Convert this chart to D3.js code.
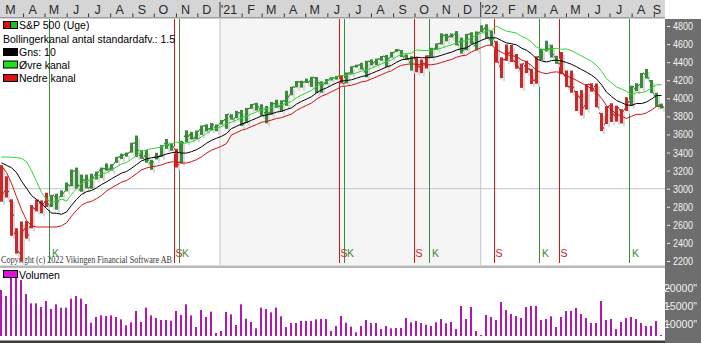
<!DOCTYPE html>
<html>
<head>
<meta charset="utf-8">
<script src="https://cdn.jsdelivr.net/npm/d3@7"></script>
<style>
  body { margin: 0; background: #fff; }
  svg { display: block; }
</style>
</head>
<body>
<div id="chartContainer"></div>
<script>
// weekly bars, first bar = week ending 28 Feb 2020
var firstWeek = "2020-02-28";

var weekOpen = [3258,2974,2864,2509,2291,2555,2578,2782,2846,2854,2815,2915,2913,2970,3038,3200,2994,3094,3019,3155,
  3205,3224,3220,3288,3356,3381,3406,3507,3370,3364,3286,3351,3367,3500,3493,3441,3296,3583,3600,3567,
  3654,3698,3666,3684,3723,3765,3803,3782,3844,3731,3893,3940,3886,3843,3844,3943,3916,3971,4034,4125,
  4183,4185,4192,4228,4170,4169,4217,4229,4249,4173,4285,4356,4372,4296,4410,4407,4438,4462,4450,4514,
  4535,4470,4403,4450,4349,4385,4471,4554,4610,4701,4689,4712,4628,4548,4712,4587,4733,4778,4655,4632,
  4356,4431,4505,4412,4332,4363,4322,4202,4462,4541,4547,4462,4385,4255,4130,4081,4013,3919,4153,4134,
  3838,3715,3920,3815,3880,3883,3965,4112,4155,4269,4195,4034,3930];
var weekHigh = [3260,3137,2883,2563,2637,2641,2819,2879,2870,2955,2932,2945,2981,3069,3212,3233,3156,3155,3166,3190,
  3234,3279,3272,3353,3388,3400,3509,3588,3426,3429,3320,3397,3482,3550,3502,3441,3529,3646,3629,3644,
  3699,3712,3727,3711,3760,3827,3824,3861,3871,3894,3937,3950,3934,3915,3960,3984,3978,4083,4129,4191,
  4194,4218,4238,4236,4188,4213,4234,4249,4257,4286,4355,4372,4393,4415,4430,4440,4468,4480,4513,4546,
  4535,4485,4465,4457,4429,4475,4559,4608,4719,4714,4717,4744,4672,4713,4731,4740,4808,4819,4748,4632,
  4453,4595,4590,4490,4385,4416,4327,4465,4546,4637,4593,4471,4512,4308,4307,4081,4090,4158,4166,4164,
  3838,3913,3945,3918,3880,4012,4140,4167,4280,4325,4203,4062,3942];
var weekLow = [2856,2902,2479,2281,2192,2447,2562,2749,2727,2798,2797,2767,2908,2970,3026,2999,2966,3004,3000,3101,
  3116,3199,3200,3285,3327,3355,3398,3350,3330,3287,3209,3323,3354,3441,3420,3234,3280,3512,3543,3547,
  3594,3633,3647,3636,3710,3663,3764,3780,3694,3725,3884,3865,3806,3723,3819,3894,3853,3917,4034,4121,
  4118,4170,4126,4057,4061,4155,4197,4207,4164,4164,4271,4340,4318,4233,4364,4367,4415,4347,4450,4513,
  4457,4424,4306,4288,4279,4329,4447,4537,4595,4630,4672,4585,4495,4532,4600,4531,4733,4662,4582,4395,
  4223,4414,4401,4327,4115,4279,4158,4161,4424,4517,4450,4381,4267,4124,4062,3859,3810,3875,4073,3900,
  3637,3715,3738,3742,3722,3860,3913,4079,4112,4218,4057,3907,3886];
var weekClose = [2954,2972,2711,2305,2541,2489,2790,2875,2837,2831,2930,2864,2955,3044,3194,3041,3098,3009,3130,3185,
  3225,3216,3271,3351,3373,3397,3508,3427,3341,3319,3298,3348,3477,3484,3465,3270,3509,3585,3558,3638,
  3699,3663,3709,3703,3756,3825,3768,3841,3714,3887,3935,3907,3811,3842,3943,3913,3975,4020,4129,4185,
  4180,4181,4233,4174,4156,4204,4230,4247,4166,4281,4352,4370,4327,4412,4395,4437,4468,4442,4509,4535,
  4459,4433,4455,4357,4391,4471,4545,4605,4698,4683,4698,4595,4538,4712,4621,4726,4766,4677,4663,4398,
  4432,4501,4419,4349,4385,4329,4204,4463,4543,4546,4488,4393,4272,4132,4123,4024,3901,4158,4109,3901,
  3675,3912,3825,3899,3863,3962,4130,4145,4280,4228,4058,3924,3908];

// Gns: 10 and the two channel lines
var avg10 = [3286,3259,3232,3180,3084,3005,2924,2881,2836,2781,2731,2728,2717,2742,2816,2881,2936,2967,2980,3010,
  3045,3075,3110,3141,3172,3190,3226,3267,3308,3329,3343,3350,3363,3384,3397,3406,3394,3394,3410,3431,
  3463,3503,3535,3558,3580,3609,3665,3690,3716,3732,3757,3780,3805,3815,3829,3847,3856,3877,3895,3936,
  3966,3991,4018,4060,4093,4115,4144,4169,4192,4196,4205,4222,4241,4251,4275,4298,4322,4346,4365,4399,
  4425,4435,4442,4455,4449,4449,4452,4460,4476,4495,4510,4534,4550,4558,4594,4617,4642,4664,4671,4668,
  4639,4613,4603,4592,4555,4532,4492,4436,4414,4402,4417,4423,4412,4397,4376,4349,4319,4289,4258,4215,
  4150,4069,4021,3976,3953,3927,3921,3943,3942,3959,3992,4030,4031];
var upperBand = [3350,3350,3348,3345,3335,3300,3200,3080,2960,2880,2850,2860,2885,2862,2936,3001,3056,3087,3100,3130,
  3165,3175,3210,3241,3272,3290,3326,3367,3408,3429,3443,3450,3463,3484,3497,3516,3504,3504,3520,3541,
  3573,3613,3645,3668,3690,3719,3735,3760,3786,3802,3827,3850,3875,3885,3899,3917,3926,3947,3965,4006,
  4036,4061,4088,4130,4163,4185,4214,4239,4252,4256,4265,4282,4301,4311,4335,4358,4382,4406,4425,4459,
  4485,4495,4502,4535,4529,4529,4532,4540,4556,4575,4590,4614,4630,4638,4674,4697,4722,4744,4751,4798,
  4769,4743,4733,4722,4685,4662,4622,4566,4544,4532,4547,4553,4542,4547,4526,4499,4469,4439,4408,4365,
  4300,4219,4171,4126,4103,4077,4041,4063,4062,4079,4112,4150,4151];
var lowerBand = [3255,3180,3060,2910,2770,2650,2590,2576,2576,2576,2576,2576,2590,2622,2696,2761,2816,2847,2860,2890,
  2925,2975,3010,3041,3072,3090,3126,3167,3208,3229,3243,3250,3263,3284,3297,3296,3284,3284,3300,3321,
  3353,3393,3425,3448,3470,3499,3595,3620,3646,3662,3687,3710,3735,3745,3759,3777,3786,3807,3825,3866,
  3896,3921,3948,3990,4023,4045,4074,4099,4132,4136,4145,4162,4181,4191,4215,4238,4262,4286,4305,4339,
  4365,4375,4382,4375,4369,4369,4372,4380,4396,4415,4430,4454,4470,4478,4514,4537,4562,4584,4591,4538,
  4509,4483,4473,4462,4425,4402,4362,4306,4284,4272,4287,4293,4282,4247,4226,4199,4169,4139,4108,4065,
  4000,3919,3871,3826,3803,3777,3801,3823,3822,3839,3872,3910,3911];

var volume = [19444,17778,23148,24074,22222,18333,15741,15741,14722,16389,14167,15463,14537,14537,17037,17778,17037,15556,10370,11944,
  12407,12222,12407,11944,11296,9630,10463,13611,10556,14537,12407,11667,11111,11111,10926,13611,12500,15463,12407,9167,
  13889,11944,13426,7500,8056,13333,12685,9722,15463,11481,10556,8796,14537,14167,13241,14537,12130,9167,10278,10278,
  10833,10833,10833,11296,11389,11389,8056,9444,12222,10370,9259,7685,9444,11111,10278,10278,8611,9444,8796,8889,
  8889,11667,10463,10833,10278,9815,9444,10463,11389,10185,10556,8611,15000,11389,14722,8056,6944,12500,11944,11111,
  16111,13889,12778,12222,11667,14722,15000,15000,11111,11389,12130,9167,11944,13611,13611,14444,12778,11667,10278,10278,
  16389,11111,11389,8611,10556,11667,11944,11389,10278,9444,9444,10833,6944];

// buy (K) / sell (S) signals, by bar index
var signalBars = [10, 35, 36, 68, 69, 83, 86, 99, 108, 112, 126];
var signalTypes = ["K","S","K","S","K","S","K","S","K","S","K"];

var priceTicks = [4800,4600,4400,4200,4000,3800,3600,3400,3200,3000,2800,2600,2400,2200];
var volumeTicks = [20000,15000,10000];
var monthLetters = ["J","F","M","A","M","J","J","A","S","O","N","D"];

var W = 701, H = 343;
var plotRight = 665, plotTop = 19, plotBottom = 265;
var volBottom = 336;

var svg = d3.select("#chartContainer").append("svg")
  .attr("width", W).attr("height", H)
  .style("font-family", "'Liberation Sans', Arial, sans-serif");

var parse = d3.timeParse("%Y-%m-%d");
var start = parse(firstWeek);
var n = weekClose.length;

var x = d3.scaleLinear().domain([0, n - 1]).range([1.5, 1.5 + 5 * (n - 1)]);
var y = d3.scaleLinear().domain([2200, 4800]).range([261, 26]);
var yv = d3.scaleLinear().domain([10000, 20000]).range([324, 288]);

function dateX(d) {
  return x((d - start) / (7 * 864e5)) - 1.5;
}

// header bar with months
svg.append("rect").attr("x", 0).attr("y", 0).attr("width", plotRight).attr("height", 18)
  .attr("fill", "#d5d5d5");
svg.append("rect").attr("x", 0).attr("y", 17).attr("width", plotRight).attr("height", 1.5)
  .attr("fill", "#9c9c9c");

var months = d3.timeMonth.range(new Date(2020, 2, 1), new Date(2022, 8, 2));
months.forEach(function (m) {
  var bx = dateX(m);
  if (m.getMonth() === 0) {
    svg.append("line").attr("x1", bx).attr("x2", bx).attr("y1", 2).attr("y2", 17)
      .attr("stroke", "#333").attr("stroke-width", 1);
  } else if (bx > 2) {
    svg.append("line").attr("x1", bx).attr("x2", bx).attr("y1", 13.5).attr("y2", 17)
      .attr("stroke", "#333").attr("stroke-width", 1);
  }
  var lx = dateX(new Date(m.getFullYear(), m.getMonth(), 15)) - 1;
  lx = Math.min(lx, plotRight - 8);
  var label = m.getMonth() === 0 ? "'" + String(m.getFullYear()).slice(2) : monthLetters[m.getMonth()];
  svg.append("text").attr("x", lx).attr("y", 13.5)
    .attr("text-anchor", "middle")
    .style("font-size", "12.5px").style("fill", "#2a2a2a")
    .text(label);
});

// plot background, 2021 shaded
svg.append("rect").attr("x", dateX(new Date(2021, 0, 1))).attr("y", plotTop)
  .attr("width", dateX(new Date(2022, 0, 1)) - dateX(new Date(2021, 0, 1)))
  .attr("height", plotBottom - plotTop).attr("fill", "#f5f5f5");

// grid
svg.append("line").attr("x1", 0).attr("x2", plotRight).attr("y1", y(3000)).attr("y2", y(3000))
  .attr("stroke", "#c4c4c4");
[new Date(2021, 0, 1), new Date(2022, 0, 1)].forEach(function (d) {
  svg.append("line").attr("x1", dateX(d)).attr("x2", dateX(d)).attr("y1", plotTop).attr("y2", plotBottom)
    .attr("stroke", "#c4c4c4");
});

// copyright (drawn under the signal labels, as in the original)
svg.append("text").attr("x", 1).attr("y", 263)
  .attr("textLength", 171).attr("lengthAdjust", "spacingAndGlyphs")
  .style("font-family", "'Liberation Serif', 'Times New Roman', serif")
  .style("font-size", "9.5px").style("fill", "#3a3a3a")
  .text("Copyright (c) 2022 Vikingen Financial Software AB");

// signal lines
var sigColor = { S: "#d01818", K: "#3a8c3a" };
signalBars.forEach(function (b, i) {
  var sx = Math.round(x(b) - 2.5) + 0.5;
  var t = signalTypes[i];
  svg.append("line").attr("x1", sx).attr("x2", sx).attr("y1", plotTop).attr("y2", plotBottom - 2)
    .attr("stroke", sigColor[t]).attr("stroke-width", 1);
  svg.append("text").attr("x", t === "S" ? sx + 1 : sx + 2.5).attr("y", 257)
    .style("font-size", "10.5px").style("fill", sigColor[t])
    .text(t);
});

// bar colour follows the last signal
var barColor = [];
var state = "S";
for (var i = 0; i < n; i++) {
  var k = signalBars.indexOf(i);
  if (k !== -1) state = signalTypes[k];
  barColor.push(state === "K" ? "#3b8a3b" : "#c62a2a");
}

var bars = svg.append("g");
d3.range(n).forEach(function (i) {
  var top = y(weekHigh[i]), bot = y(weekLow[i]);
  bars.append("rect").attr("x", x(i) + 1.5).attr("y", top + 3)
    .attr("width", 2).attr("height", Math.max(1, bot - top))
    .attr("fill", "#d9d9d9");
});
d3.range(n).forEach(function (i) {
  var top = y(weekHigh[i]), bot = y(weekLow[i]);
  bars.append("rect").attr("x", x(i) - 1.5).attr("y", top)
    .attr("width", 3).attr("height", Math.max(1, bot - top))
    .attr("fill", barColor[i]);
  // open / close notches
  bars.append("rect").attr("x", x(i) - 2.5).attr("y", y(weekOpen[i]) - 0.5)
    .attr("width", 1).attr("height", 1.5).attr("fill", barColor[i]);
  bars.append("rect").attr("x", x(i) + 1.5).attr("y", y(weekClose[i]) - 0.5)
    .attr("width", 1).attr("height", 1.5).attr("fill", barColor[i]);
});

// channel lines
var line = d3.line().x(function (d, i) { return x(i); }).y(function (d) { return y(d); });
svg.append("path").datum(upperBand).attr("d", line).attr("fill", "none").attr("stroke", "#2fd52f").attr("stroke-width", 1);
svg.append("path").datum(lowerBand).attr("d", line).attr("fill", "none").attr("stroke", "#d01010").attr("stroke-width", 1);
svg.append("path").datum(avg10).attr("d", line).attr("fill", "none").attr("stroke", "#000").attr("stroke-width", 1);

// legend
var legend = [
  { text: "S&P 500 (Uge)", icon: ["#e01010", "#20c020"] },
  { text: "Bollingerkanal antal standardafv.: 1.5", icon: null },
  { text: "Gns: 10", icon: ["#000"] },
  { text: "\u00D8vre kanal", icon: ["#20e020"] },
  { text: "Nedre kanal", icon: ["#e01010"] }
];
var legendY = [25, 39, 52, 64.5, 78];
legend.forEach(function (d, i) {
  var cy = legendY[i];
  if (d.icon) {
    if (d.icon.length === 2) {
      svg.append("rect").attr("x", 3.5).attr("y", cy - 3.5).attr("width", 7).attr("height", 7).attr("fill", d.icon[0]).attr("stroke", "#000");
      svg.append("rect").attr("x", 10.5).attr("y", cy - 3.5).attr("width", 7).attr("height", 7).attr("fill", d.icon[1]).attr("stroke", "#000");
    } else {
      svg.append("rect").attr("x", 3.5).attr("y", cy - 3.5).attr("width", 14).attr("height", 7).attr("fill", d.icon[0]).attr("stroke", "#000");
    }
  }
  svg.append("text").attr("x", d.icon ? 19 : 3).attr("y", cy + 4)
    .style("font-size", "10.5px").style("fill", "#000")
    .text(d.text);
});

// panel separator and bottom edge
svg.append("rect").attr("x", 0).attr("y", 265.5).attr("width", plotRight).attr("height", 2.5).attr("fill", "#b8b8b8");
svg.append("rect").attr("x", 0).attr("y", 340.5).attr("width", plotRight).attr("height", 2.5).attr("fill", "#3c3c3c");

// volume
svg.append("g").selectAll("rect").data(volume).enter().append("rect")
  .attr("x", function (d, i) { return x(i) - 1.5; })
  .attr("y", function (d) { return yv(d); })
  .attr("width", 2)
  .attr("height", function (d) { return volBottom - yv(d); })
  .attr("fill", "#b316b3");

svg.append("rect").attr("x", 3.5).attr("y", 270.5).attr("width", 14).attr("height", 7).attr("fill", "#e010e0").attr("stroke", "#000");
svg.append("text").attr("x", 19).attr("y", 279).style("font-size", "10.5px").style("fill", "#000").text("Volumen");

// right axis panel
svg.append("rect").attr("x", plotRight).attr("y", plotTop).attr("width", W - plotRight).attr("height", H - plotTop)
  .attr("fill", "#6e6e6e");
priceTicks.forEach(function (t) {
  svg.append("line").attr("x1", plotRight + 2).attr("x2", plotRight + 5).attr("y1", y(t) + 0.5).attr("y2", y(t) + 0.5)
    .attr("stroke", "#eee");
  svg.append("text").attr("x", plotRight + 8).attr("y", y(t) + 4)
    .attr("textLength", 20).attr("lengthAdjust", "spacingAndGlyphs")
    .style("font-size", "11px").style("fill", "#f2f2f2")
    .text(t);
});
volumeTicks.forEach(function (t) {
  svg.append("text").attr("x", plotRight - 1).attr("y", yv(t) + 4)
    .attr("textLength", 33).attr("lengthAdjust", "spacingAndGlyphs")
    .style("font-size", "11px").style("fill", "#f2f2f2")
    .text(t + "\"");
  svg.append("line").attr("x1", plotRight + 1).attr("x2", plotRight + 5).attr("y1", yv(t) + 0.5).attr("y2", yv(t) + 0.5)
    .attr("stroke", "#eee");
});
</script>
</body>
</html>
